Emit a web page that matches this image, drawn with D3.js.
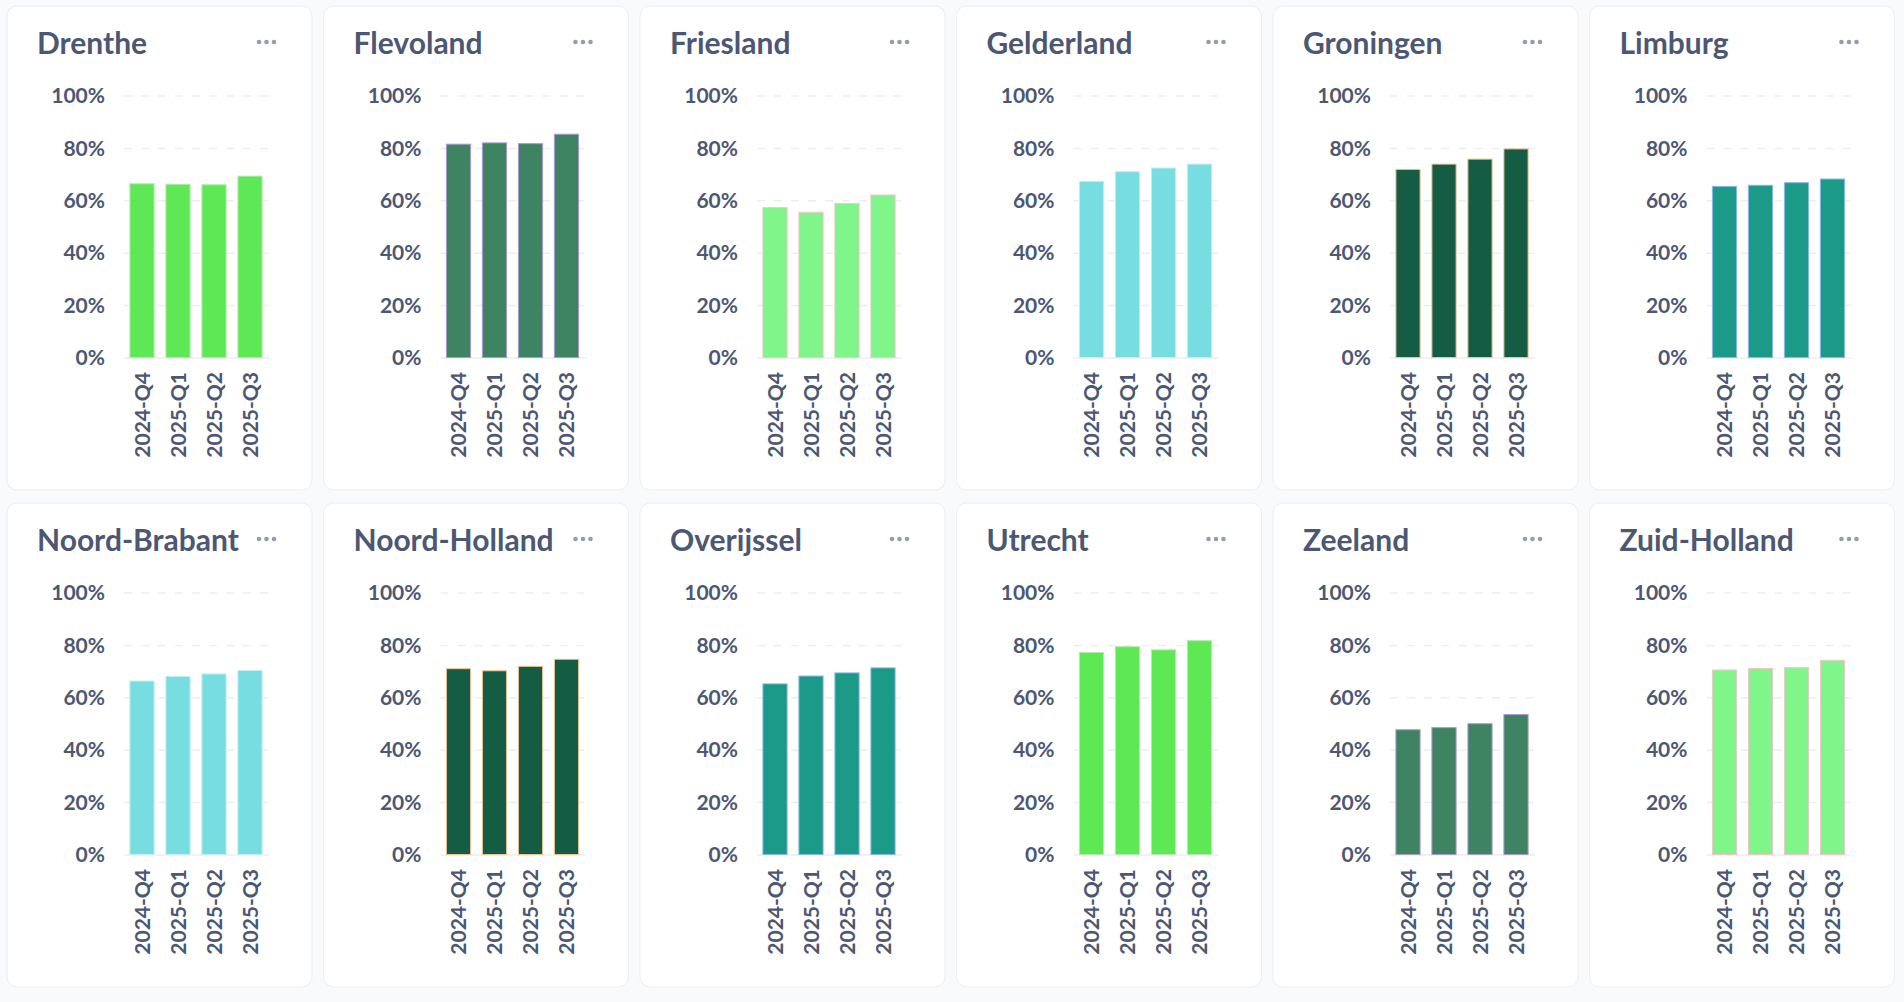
<!DOCTYPE html>
<html>
<head>
    <meta charset="utf-8">
    <title>Provinces per quarter</title>
    <script src="https://d3js.org/d3.v7.min.js"></script>
    <style>
        body { margin: 0; background: #f9fafb; }
        text { font-family: Lato, "Noto Sans", sans-serif; }
    </style>
</head>
<body>
    <div id="chart"></div>
    <script>

        // data
        var quarters = ["2024-Q4", "2025-Q1", "2025-Q2", "2025-Q3"];
        var provinces = ["Drenthe", "Flevoland", "Friesland", "Gelderland", "Groningen", "Limburg",
            "Noord-Brabant", "Noord-Holland", "Overijssel", "Utrecht", "Zeeland", "Zuid-Holland"];

        var drenthe = [0.667, 0.665, 0.663, 0.696];
        var flevoland = [0.818, 0.823, 0.820, 0.856];
        var friesland = [0.576, 0.558, 0.592, 0.624];
        var gelderland = [0.676, 0.713, 0.727, 0.742];
        var groningen = [0.722, 0.742, 0.761, 0.800];
        var limburg = [0.657, 0.661, 0.671, 0.685];
        var noordBrabant = [0.666, 0.683, 0.693, 0.706];
        var noordHolland = [0.713, 0.705, 0.722, 0.749];
        var overijssel = [0.655, 0.685, 0.697, 0.716];
        var utrecht = [0.775, 0.797, 0.785, 0.820];
        var zeeland = [0.480, 0.488, 0.503, 0.538];
        var zuidHolland = [0.708, 0.714, 0.717, 0.745];

        var series = [drenthe, flevoland, friesland, gelderland, groningen, limburg,
            noordBrabant, noordHolland, overijssel, utrecht, zeeland, zuidHolland];

        var yTicks = [0, 0.2, 0.4, 0.6, 0.8, 1];

        var barColors = ["#5fe856", "#3f8462", "#80f58a", "#77dde0", "#155c44", "#1b9a87",
            "#77dde0", "#155c44", "#1b9a87", "#5fe856", "#3f8462", "#80f58a"];
        var barStrokes = ["#b8e8b0", "#ab98d6", "#f4c4cb", "#c4eef0", "#f2c493", "#8ab6ec",
            "#c4eef0", "#f2c493", "#8ab6ec", "#b8e8b0", "#ab98d6", "#f4c4cb"];

        var textColor = "#4c5773";
        var cardW = 305, cardH = 484;
        var cols = 6;

        var svg = d3.select("#chart")
            .append("svg")
            .attr("width", 1904)
            .attr("height", 1002);

        svg.append("rect")
            .attr("width", 1904)
            .attr("height", 1002)
            .attr("fill", "#f9fafb");

        var y = d3.scaleLinear().domain([0, 1]).range([352, 90]);
        var x = d3.scaleBand().domain(quarters).range([117, 261])
            .paddingInner(0.3).paddingOuter(0.15);

        provinces.forEach(function(name, i) {
            var col = i % cols, row = Math.floor(i / cols);
            var card = svg.append("g")
                .attr("transform", "translate(" + (7 + col * 316.5) + "," + (6 + row * 497) + ")");

            card.append("rect")
                .attr("width", cardW)
                .attr("height", cardH)
                .attr("rx", 10)
                .attr("fill", "#fff")
                .attr("stroke", "#eceef1");

            card.append("text")
                .attr("x", 30)
                .attr("y", 48)
                .attr("fill", textColor)
                .style("font-size", "30px")
                .style("font-weight", "bold")
                .text(name);

            card.selectAll(".dot")
                .data([0, 1, 2])
                .join("circle")
                .attr("cx", function(d) { return 252 + d * 7.5; })
                .attr("cy", 36)
                .attr("r", 2.3)
                .attr("fill", "#959cad");

            // grid
            card.selectAll(".grid")
                .data(yTicks)
                .join("line")
                .attr("x1", 117)
                .attr("x2", 262)
                .attr("y1", function(d) { return y(d); })
                .attr("y2", function(d) { return y(d); })
                .attr("stroke", "#eceef0")
                .attr("stroke-width", 1.5)
                .attr("stroke-dasharray", function(d) { return d === 0 ? null : "8,9"; });

            // y axis labels
            var yAxis = card.append("g")
                .attr("transform", "translate(117,0)")
                .call(d3.axisLeft(y).tickValues(yTicks).tickFormat(d3.format(".0%"))
                    .tickSize(0).tickPadding(19));
            yAxis.select(".domain").remove();
            yAxis.selectAll("text")
                .attr("fill", textColor)
                .style("font-size", "21px")
                .style("font-weight", "bold");

            card.selectAll(".bar")
                .data(series[i])
                .join("rect")
                .attr("x", function(d, j) { return x(quarters[j]) + 0.5; })
                .attr("y", function(d) { return y(d) + 0.5; })
                .attr("width", x.bandwidth() - 1)
                .attr("height", function(d) { return y(0) - y(d) - 1; })
                .attr("fill", barColors[i])
                .attr("stroke", barStrokes[i])
                .attr("stroke-width", 1);

            var xAxis = card.append("g")
                .attr("transform", "translate(0,352)")
                .call(d3.axisBottom(x).tickSize(0).tickPadding(0));
            xAxis.select(".domain").remove();
            xAxis.selectAll("text")
                .attr("transform", "rotate(-90)")
                .attr("text-anchor", "end")
                .attr("x", -14)
                .attr("y", 0)
                .attr("dy", "0.36em")
                .attr("fill", textColor)
                .style("font-size", "21px")
                .style("font-weight", "bold");
        });

    </script>
</body>
</html>
